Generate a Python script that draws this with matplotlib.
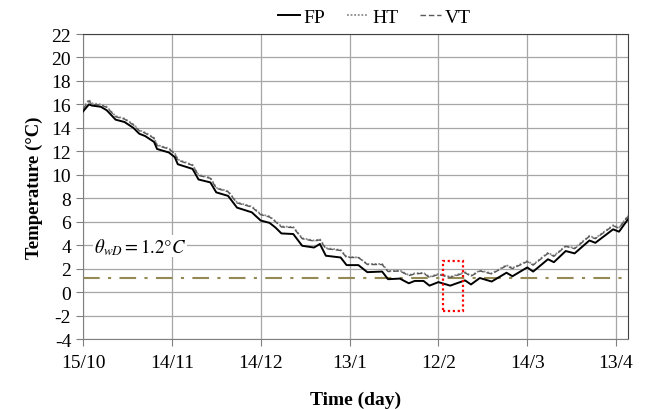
import matplotlib
matplotlib.use("Agg")
import matplotlib.pyplot as plt
from matplotlib.patches import Rectangle

plt.rcParams['font.family'] = ['Liberation Serif', 'DejaVu Serif']
plt.rcParams['mathtext.fontset'] = 'stix'
plt.rcParams['axes.unicode_minus'] = False

# Day index counted from 15/10
days = [0, 2, 3, 6, 8, 11, 14, 17, 19, 21, 24, 25, 29, 31, 32, 37, 39, 43, 45, 49,
        52, 57, 60, 63, 65, 67, 71, 74, 78, 80, 82, 87, 89, 93, 96, 101, 103, 107, 110, 112,
        115, 117, 120, 124, 129, 131, 134, 138, 143, 145, 150, 152, 157, 159, 163, 166, 171, 173, 179, 181,
        184]
fp = [15.4, 16.0, 15.9, 15.8, 15.5, 14.7, 14.5, 14.0, 13.5, 13.3,
      12.8, 12.2, 11.9, 11.5, 10.9, 10.5, 9.6, 9.35, 8.5, 8.2,
      7.2, 6.8, 6.1, 5.9, 5.5, 5.0, 4.95, 3.95, 3.8, 4.1,
      3.1, 2.95, 2.3, 2.3, 1.7, 1.75, 1.1, 1.15, 0.75, 0.95,
      0.95, 0.55, 0.85, 0.55, 1.0, 0.65, 1.2, 0.9, 1.65, 1.35,
      2.1, 1.75, 2.8, 2.55, 3.5, 3.3, 4.4, 4.2, 5.35, 5.15,
      6.2]
ht = [15.7, 16.4, 16.1, 16.0, 15.8, 15.0, 14.8, 14.3, 13.8, 13.6,
      13.15, 12.55, 12.25, 11.85, 11.3, 10.85, 10.0, 9.75, 8.9, 8.6,
      7.65, 7.3, 6.65, 6.45, 6.05, 5.6, 5.55, 4.6, 4.4, 4.5,
      3.75, 3.6, 3.0, 2.95, 2.4, 2.4, 1.8, 1.85, 1.45, 1.6,
      1.65, 1.3, 1.55, 1.3, 1.7, 1.4, 1.85, 1.6, 2.3, 2.05,
      2.65, 2.35, 3.35, 3.1, 3.95, 3.75, 4.8, 4.6, 5.7, 5.5,
      6.5]
vt = [15.6, 16.3, 16.0, 15.95, 15.75, 14.95, 14.75, 14.25, 13.75, 13.55,
      13.1, 12.5, 12.2, 11.8, 11.25, 10.8, 9.95, 9.7, 8.85, 8.55,
      7.6, 7.25, 6.6, 6.4, 6.0, 5.55, 5.5, 4.55, 4.35, 4.45,
      3.7, 3.55, 2.95, 2.95, 2.35, 2.35, 1.75, 1.8, 1.4, 1.55,
      1.6, 1.25, 1.5, 1.25, 1.65, 1.35, 1.8, 1.55, 2.25, 2.0,
      2.6, 2.3, 3.3, 3.05, 3.9, 3.7, 4.75, 4.55, 5.65, 5.45,
      6.45]

tick_days = [0, 30, 60, 90, 120, 150, 180]
tick_labels = ['15/10', '14/11', '14/12', '13/1', '12/2', '14/3', '13/4']
threshold = 1.2
box_days = (121.4, 128.4)
box_temps = (-1.6, 2.67)

fig = plt.figure(figsize=(6.46, 4.10), dpi=100)
ax = fig.add_axes([0.1285, 0.1707, 0.8435, 0.7439])

ax.plot(days, fp, color='black', lw=1.4, label='FP', zorder=4)
ax.plot(days, ht, color='#8c8c8c', lw=1.3, ls=(0, (1, 1)), label='HT', zorder=3)
ax.plot(days, vt, color='#595959', lw=1.0, ls=(0, (4, 2)), label='VT', zorder=3)

ax.axhline(threshold, color='#948a54', lw=1.5, ls=(0, (8, 4, 1.5, 4)), zorder=2)
ax.add_patch(Rectangle((box_days[0], box_temps[0]), box_days[1] - box_days[0],
                       box_temps[1] - box_temps[0], fill=False, ec='red', lw=1.6,
                       ls=(0, (1, 1.2)), zorder=5))

ax.text(3.6, 3.9, r'$\theta_{wD}=1.2\degree C$', fontsize=13.5, va='center', ha='left',
        bbox=dict(facecolor='white', edgecolor='none', pad=0.5), zorder=6)

ax.set_xlim(0, 184)
ax.set_ylim(-4, 22)
ax.set_yticks(range(-4, 23, 2))
ax.set_xticks(tick_days)
ax.set_xticklabels(tick_labels)
ax.tick_params(labelsize=14, length=5, color='#808080', width=0.8)
ax.tick_params(axis='x', pad=6)
ax.grid(True, color='#a6a6a6', lw=0.9)
ax.set_axisbelow(True)
for s in ['left', 'bottom']:
    ax.spines[s].set_color('#808080')
for s in ['top', 'right']:
    ax.spines[s].set_color('#404040')

ax.set_xlabel('Time (day)', fontsize=14, fontweight='bold', labelpad=14)
ax.set_ylabel('Temperature (°C)', fontsize=13.5, fontweight='bold', labelpad=6)

fig.legend(loc='upper center', bbox_to_anchor=(0.58, 1.02), ncol=3, frameon=False,
           fontsize=14, handlelength=1.1, handletextpad=0.2, columnspacing=1.1)

fig.savefig('out.png', dpi=100)
